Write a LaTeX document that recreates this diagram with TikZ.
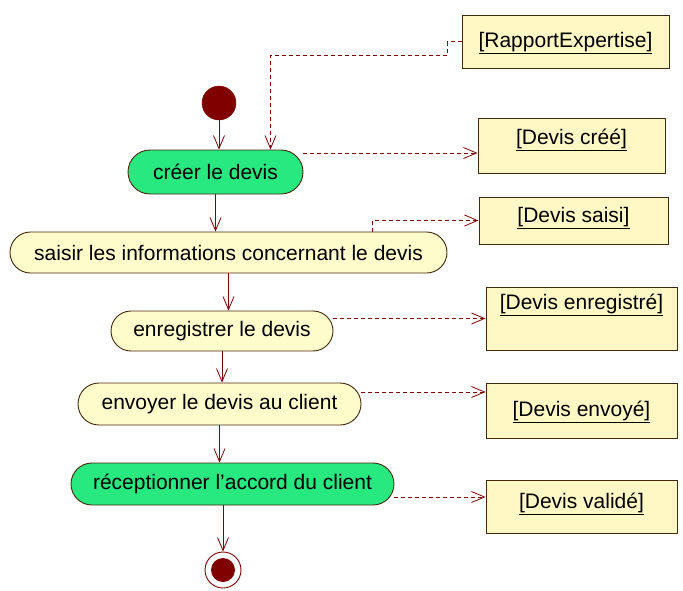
\documentclass[tikz,border=0pt]{standalone}
\usepackage{fontspec}
\setmainfont{Liberation Sans}
\usepackage{tikz}
\usepackage{xcolor}
\usetikzlibrary{shapes,arrows.meta,positioning,calc}

\definecolor{umlred}{RGB}{128,0,0}
\definecolor{umlborder}{RGB}{70,40,10}
\definecolor{actgreen}{RGB}{40,232,128}
\definecolor{actyellow}{RGB}{255,252,204}
\definecolor{objyellow}{RGB}{255,248,196}

\tikzset{
    action/.style={rounded rectangle, draw=umlborder, line width=0.9pt, inner sep=0pt,
        font=\fontsize{21}{24}\selectfont},
    objbox/.style={rectangle, draw=umlborder, fill=objyellow, line width=1pt, inner sep=3pt,
        text height=16pt, text depth=5pt, font=\fontsize{21}{24}\selectfont},
    flow/.style={draw=umlred, line width=0.8pt, -{Straight Barb[length=13pt,width=11pt]}},
    dep/.style={flow, dash pattern=on 4pt off 3pt}
}

\begin{document}
\begin{tikzpicture}[x=1pt,y=-1pt]

    \useasboundingbox (0,0) rectangle (683,590);
    \fill[white] (0,0) rectangle (683,590);

    \node[circle, draw=umlred, fill=umlred, minimum size=34pt, inner sep=0pt] (start) at (219,103) {};
    \node[action, fill=actgreen, minimum width=175pt, minimum height=44pt] (creer) at (215.5,172) {créer le devis};
    \node[action, fill=actyellow, minimum width=437pt, minimum height=41pt] (saisir) at (228.5,252.5) {saisir les informations concernant le devis};
    \node[action, fill=actyellow, minimum width=222pt, minimum height=40pt] (enreg) at (222,331) {enregistrer le devis};
    \node[action, fill=actyellow, minimum width=283pt, minimum height=42pt] (envoyer) at (219.5,404) {envoyer le devis au client};
    \node[action, fill=actgreen, minimum width=323pt, minimum height=42pt] (recep) at (232.5,484) {réceptionner l'accord du client};
    \node[circle, draw=umlred, fill=white, line width=0.9pt, minimum size=36pt, inner sep=0pt] (end) at (223,570) {};
    \fill[umlred] (end) circle (12pt);

    \node[objbox, minimum width=207pt, minimum height=53pt] (rapport) at (565.5,41.5) {\underline{[RapportExpertise]}};
    \node[objbox, minimum width=187pt, minimum height=55pt, text depth=19pt] (cree) at (571.5,145.5) {\underline{[Devis créé]}};
    \node[objbox, minimum width=189pt, minimum height=47pt, text depth=13pt] (saisi) at (573.5,220.5) {\underline{[Devis saisi]}};
    \node[objbox, minimum width=191pt, minimum height=63pt, text depth=35pt] (enr) at (581.5,318.5) {\underline{[Devis enregistré]}};
    \node[objbox, minimum width=191pt, minimum height=55pt] (envoye) at (581.5,410.5) {\underline{[Devis envoyé]}};
    \node[objbox, minimum width=191pt, minimum height=53pt, text depth=13pt] (valide) at (581.5,506.5) {\underline{[Devis validé]}};

    \draw[flow] (start.south) -- (start.south |- creer.north);
    \draw[flow] (creer.south) -- (creer.south |- saisir.north);
    \draw[flow] (saisir.south) -- (saisir.south |- enreg.north);
    \draw[flow] (enreg.south) -- (enreg.south |- envoyer.north);
    \draw[flow] (envoyer.south) -- (envoyer.south |- recep.north);
    \draw[flow] (recep.south -| end) -- (end.north);

    \coordinate (d1) at ($(creer.east)+(0,-19)$);
    \coordinate (d4) at ($(envoyer.east)+(0,-12)$);
    \coordinate (d5) at ($(recep.east)+(0,13)$);

    \draw[dep] (rapport.west) -- ++(-14,0) -- ++(0,13.5) -| ($(creer.north)+(55,0)$);
    \draw[dep] (d1) -- (d1 -| cree.west);
    \draw[dep] ($(saisir.north)+(143.5,0)$) |- (saisi.west);
    \draw[dep] (enreg.east |- enr.west) -- (enr.west);
    \draw[dep] (d4) -- (d4 -| envoye.west);
    \draw[dep] (d5) -- (d5 -| valide.west);

\end{tikzpicture}
\end{document}
